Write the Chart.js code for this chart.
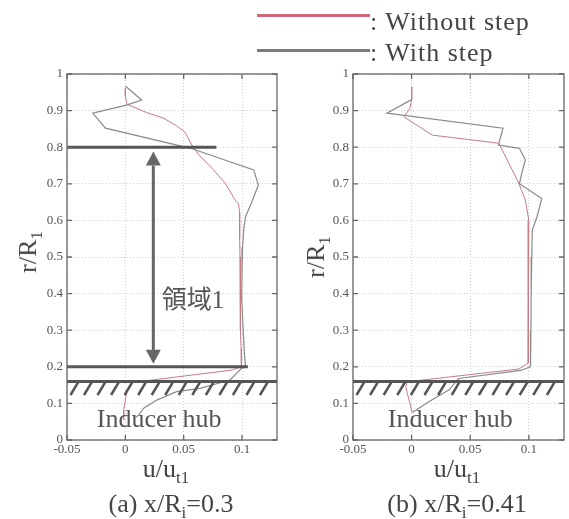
<!DOCTYPE html>
<html>
<head>
<meta charset="utf-8">
<script src="https://cdn.jsdelivr.net/npm/chart.js@4.4.1/dist/chart.umd.min.js"></script>
<style>
  html, body { margin: 0; padding: 0; background: #fff; }
  #wrap { position: relative; width: 569px; height: 519px; overflow: hidden;
          font-family: 'Liberation Serif', 'Times New Roman', serif; color: #444; }
  canvas { position: absolute; top: 0; }
  .lbl { position: absolute; white-space: nowrap; font-size: 26px; line-height: 1;
         transform: translate(-50%, -50%); }
  .lbl sub { font-size: 17px; vertical-align: -6px; line-height: 0; }
  .ytitle { transform: translate(-50%, -50%) rotate(-90deg); }
  .legline { position: absolute; height: 3px; }
  .legtext { position: absolute; font-size: 26px; line-height: 1; white-space: nowrap; letter-spacing: 1px; }
</style>
</head>
<body>
<div id="wrap">
  <canvas id="panelA" width="290" height="519" style="left:0"></canvas>
  <canvas id="panelB" width="279" height="519" style="left:290px"></canvas>

  <div class="lbl ytitle" style="left:28px; top:252px">r/R<sub>1</sub></div>
  <div class="lbl ytitle" style="left:316px; top:257px">r/R<sub>1</sub></div>
  <div class="lbl" style="left:166px; top:469px">u/u<sub>t1</sub></div>
  <div class="lbl" style="left:457px; top:469px">u/u<sub>t1</sub></div>
  <div class="lbl" style="left:171px; top:504px">(a) x/R<sub>i</sub>=0.3</div>
  <div class="lbl" style="left:457px; top:504px">(b) x/R<sub>i</sub>=0.41</div>
</div>

<script>
// axis ticks
const X_TICKS = [-0.05, 0, 0.05, 0.1];
const X_TICK_LABELS = ['-0.05', '0', '0.05', '0.1'];
const Y_TICKS = [0, 0.1, 0.2, 0.3, 0.4, 0.5, 0.6, 0.7, 0.8, 0.9, 1];
const Y_TICK_LABELS = ['0', '0.1', '0.2', '0.3', '0.4', '0.5', '0.6', '0.7', '0.8', '0.9', '1'];

const SERIES = ['Without step', 'With step'];
const COLORS = ['#c47c86', '#8a8a8a'];
const LEGEND_COLORS = ['#d0677a', '#7a7a7a'];

// (a) x/Ri = 0.3  -- r/R1 against u/ut1
const A_WITHOUT_R = [0.962, 0.94, 0.917, 0.895, 0.879, 0.86, 0.842, 0.80, 0.779, 0.74, 0.70, 0.656, 0.645,
  0.62, 0.60, 0.55, 0.50, 0.45, 0.40, 0.35, 0.30, 0.25, 0.21, 0.20, 0.191, 0.157, 0.146, 0.128, 0.109, 0.082, 0.055];
const A_WITHOUT_U = [0.000, 0.000, 0.0015, 0.018, 0.033, 0.043, 0.051, 0.058, 0.063, 0.075, 0.086, 0.094, 0.097,
  0.098, 0.098, 0.098, 0.0983, 0.0983, 0.0985, 0.0987, 0.099, 0.0992, 0.0995, 0.0995, 0.091, 0.0057, 0.003, 0.001, 0.000, -0.0014, -0.0014];
const A_WITH_R = [0.967, 0.929, 0.915, 0.893, 0.852, 0.797, 0.738, 0.697, 0.647, 0.61, 0.574, 0.527, 0.45,
  0.39, 0.30, 0.24, 0.20, 0.196, 0.173, 0.164, 0.141, 0.132, 0.109, 0.087, 0.068, 0.062];
const A_WITH_U = [0.000, 0.014, 0.001, -0.028, -0.017, 0.056, 0.110, 0.114, 0.108, 0.103, 0.1015, 0.1005, 0.100,
  0.0997, 0.101, 0.102, 0.103, 0.0997, 0.0926, 0.0897, 0.064, 0.044, 0.027, 0.0157, 0.0114, 0.0088];

// (b) x/Ri = 0.41
const B_WITHOUT_R = [0.965, 0.929, 0.906, 0.883, 0.833, 0.811, 0.701, 0.656, 0.60, 0.55, 0.50, 0.40, 0.30,
  0.25, 0.21, 0.194, 0.159, 0.146, 0.128, 0.075];
const B_WITHOUT_U = [0.000, 0.000, -0.0015, -0.0066, 0.0176, 0.0744, 0.0915, 0.097, 0.100, 0.0995, 0.0994, 0.0994, 0.0994,
  0.0995, 0.0997, 0.0915, -0.0037, -0.005, -0.0037, 0.0005];
const B_WITH_R = [0.965, 0.93, 0.893, 0.852, 0.806, 0.797, 0.765, 0.729, 0.70, 0.66, 0.61, 0.574, 0.50, 0.40,
  0.30, 0.25, 0.20, 0.19, 0.168, 0.137, 0.105, 0.075];
const B_WITH_U = [0.000, 0.000, -0.021, 0.078, 0.074, 0.092, 0.097, 0.094, 0.092, 0.111, 0.107, 0.103, 0.1025, 0.102,
  0.1018, 0.1015, 0.1013, 0.093, 0.040, 0.032, 0.015, 0.0005];

// annotation values (data units)
const HUB_R = 0.16;
const HATCH_BOTTOM_R = 0.123;
const HATCH_START_U = -0.047;
const HATCH_STEP_U = 0.0116;
const HATCH_LEAN_U = 0.007;
const REGION_R = [0.2, 0.8];
const REGION_END_U = [0.105, 0.078];
const ARROW_U = 0.024;
const ARROW_TIPS_R = [0.208, 0.788];

const tickFont = { family: "'Liberation Serif', serif", size: 13 };

const pairs = (us, rs) => us.map((u, i) => ({ x: u, y: rs[i] }));

// frame, inward ticks and the hub / region sketch
const sketchPlugin = {
  id: 'sketch',
  afterDatasetsDraw(chart, args, opts) {
    const { ctx, scales: { x, y } } = chart;
    const px = v => x.getPixelForValue(v);
    const py = v => y.getPixelForValue(v);
    ctx.save();
    ctx.lineCap = 'butt';

    // hatching under the hub surface
    ctx.strokeStyle = '#555';
    ctx.lineWidth = 2.5;
    for (let u = HATCH_START_U; u < x.max - 0.005; u += HATCH_STEP_U) {
      ctx.beginPath();
      ctx.moveTo(px(u), py(HATCH_BOTTOM_R));
      ctx.lineTo(px(u + HATCH_LEAN_U), py(HUB_R));
      ctx.stroke();
    }
    // hub surface
    ctx.lineWidth = 3;
    ctx.strokeStyle = '#555';
    ctx.beginPath();
    ctx.moveTo(px(x.min), py(HUB_R));
    ctx.lineTo(px(x.max), py(HUB_R));
    ctx.stroke();

    if (opts.region) {
      // region boundaries
      REGION_R.forEach((r, i) => {
        ctx.beginPath();
        ctx.moveTo(px(x.min), py(r));
        ctx.lineTo(px(REGION_END_U[i]), py(r));
        ctx.stroke();
      });
      // double arrow
      const ax = px(ARROW_U);
      const lo = py(ARROW_TIPS_R[0]), hi = py(ARROW_TIPS_R[1]);
      const head = 14, half = 7.5;
      ctx.strokeStyle = '#666';
      ctx.fillStyle = '#666';
      ctx.lineWidth = 3;
      ctx.beginPath();
      ctx.moveTo(ax, hi + head);
      ctx.lineTo(ax, lo - head);
      ctx.stroke();
      ctx.beginPath();
      ctx.moveTo(ax, hi);
      ctx.lineTo(ax - half, hi + head);
      ctx.lineTo(ax + half, hi + head);
      ctx.closePath();
      ctx.fill();
      ctx.beginPath();
      ctx.moveTo(ax, lo);
      ctx.lineTo(ax - half, lo - head);
      ctx.lineTo(ax + half, lo - head);
      ctx.closePath();
      ctx.fill();

      ctx.fillStyle = '#555';
      ctx.font = "25px 'Liberation Serif', 'Noto Sans CJK JP', serif";
      ctx.textAlign = 'center';
      ctx.textBaseline = 'middle';
      ctx.fillText(opts.region.text, px(opts.region.u), py(opts.region.r));
    }

    ctx.fillStyle = '#555';
    ctx.font = "26px 'Liberation Serif', serif";
    ctx.textAlign = 'center';
    ctx.textBaseline = 'middle';
    ctx.fillText('Inducer hub', px(opts.hubLabel.u), py(opts.hubLabel.r));
    ctx.restore();
  },
  afterDraw(chart) {
    const { ctx, chartArea: a, scales: { x, y } } = chart;
    ctx.save();
    ctx.strokeStyle = '#666';
    ctx.lineWidth = 1.3;
    ctx.strokeRect(a.left, a.top, a.right - a.left, a.bottom - a.top);
    const t = 5;
    ctx.beginPath();
    X_TICKS.forEach(v => {
      const p = x.getPixelForValue(v);
      ctx.moveTo(p, a.bottom); ctx.lineTo(p, a.bottom - t);
      ctx.moveTo(p, a.top); ctx.lineTo(p, a.top + t);
    });
    Y_TICKS.forEach(v => {
      const p = y.getPixelForValue(v);
      ctx.moveTo(a.left, p); ctx.lineTo(a.left + t, p);
      ctx.moveTo(a.right, p); ctx.lineTo(a.right - t, p);
    });
    ctx.stroke();
    ctx.restore();
  }
};

function makePanel(id, without, withStep, yWidth, padRight, sketch) {
  return new Chart(document.getElementById(id), {
    type: 'scatter',
    data: {
      datasets: [
        { label: SERIES[0], data: without, showLine: true, borderColor: COLORS[0], borderWidth: 1,
          pointRadius: 0, fill: false, tension: 0 },
        { label: SERIES[1], data: withStep, showLine: true, borderColor: COLORS[1], borderWidth: 1.2,
          pointRadius: 0, fill: false, tension: 0 }
      ]
    },
    options: {
      responsive: false,
      animation: false,
      layout: { padding: { top: 74, right: padRight, bottom: 59, left: 0 } },
      plugins: {
        legend: { display: false },
        tooltip: { enabled: false },
        sketch: sketch
      },
      scales: {
        x: {
          type: 'linear', min: -0.05, max: 0.13,
          afterBuildTicks: s => { s.ticks = X_TICKS.map(v => ({ value: v })); },
          afterFit: s => { s.height = 20; },
          ticks: { callback: (v, i) => X_TICK_LABELS[i], font: tickFont, color: '#555',
                   padding: 2, maxRotation: 0, autoSkip: false },
          grid: { color: '#cfcfcf', drawTicks: false },
          border: { display: false, dash: [1, 2] }
        },
        y: {
          type: 'linear', min: 0, max: 1,
          afterBuildTicks: s => { s.ticks = Y_TICKS.map(v => ({ value: v })); },
          afterFit: s => { s.width = yWidth; },
          ticks: { callback: (v, i) => Y_TICK_LABELS[i], font: tickFont, color: '#555',
                   padding: 4, autoSkip: false },
          grid: { color: '#cfcfcf', drawTicks: false },
          border: { display: false, dash: [1, 2] }
        }
      }
    },
    plugins: [sketchPlugin]
  });
}

makePanel('panelA', pairs(A_WITHOUT_U, A_WITHOUT_R), pairs(A_WITH_U, A_WITH_R), 67, 13, {
  hubLabel: { u: 0.029, r: 0.055 },
  region: { text: '領域1', u: 0.058, r: 0.378 }
});
makePanel('panelB', pairs(B_WITHOUT_U, B_WITHOUT_R), pairs(B_WITH_U, B_WITH_R), 63, 5, {
  hubLabel: { u: 0.033, r: 0.055 }
});

// legend built from the series
const wrap = document.getElementById('wrap');
SERIES.forEach((name, i) => {
  const line = document.createElement('div');
  line.className = 'legline';
  line.style.cssText = `left:257px; top:${14 + i * 35}px; width:113px; background:${LEGEND_COLORS[i]}`;
  wrap.appendChild(line);
  const txt = document.createElement('div');
  txt.className = 'legtext';
  txt.style.cssText = `left:370px; top:${9 + i * 31}px`;
  txt.textContent = ': ' + name;
  wrap.appendChild(txt);
});
</script>
</body>
</html>
